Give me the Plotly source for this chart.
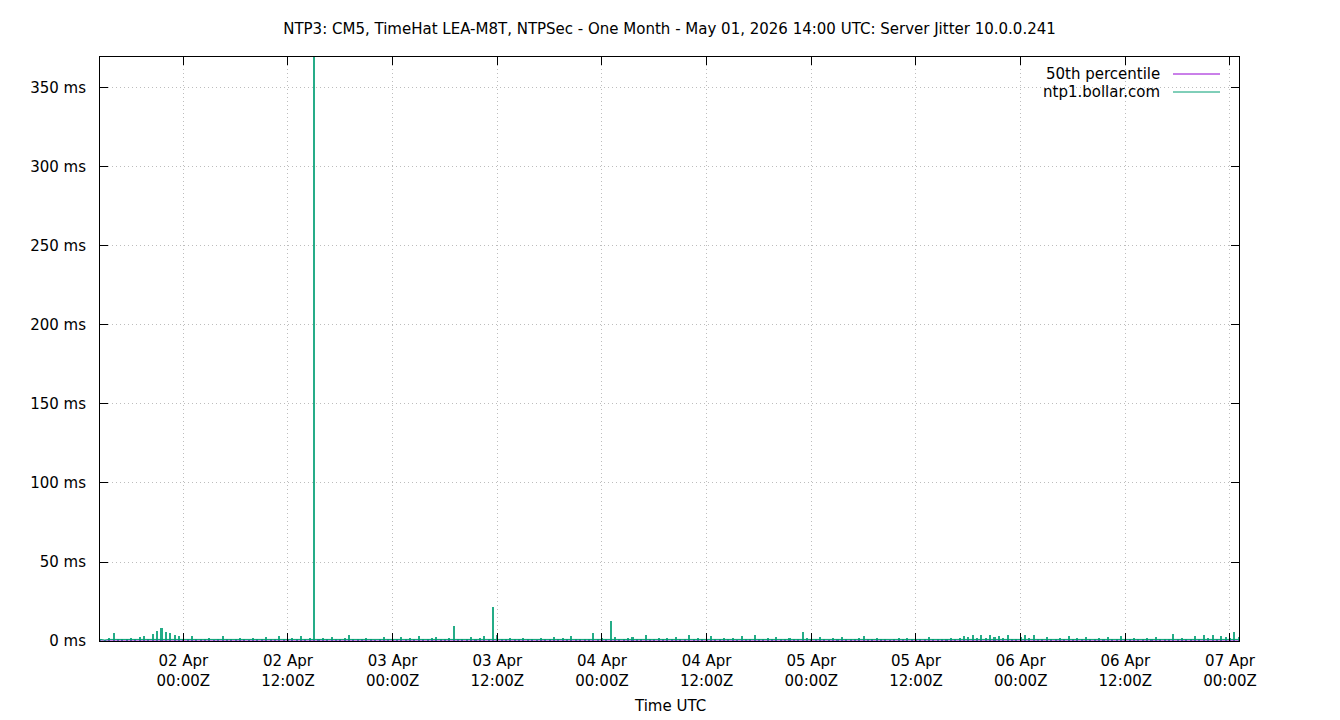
import pandas as pd
import plotly.graph_objects as go

# server jitter samples (ms), one every 30 minutes from 01 Apr 14:30Z
jitter_ms = [
    1.2, 0.6, 1.8, 5.1, 0.9, 1.1, 0.7, 1.6, 0.8, 2.4, 3.1, 1.5,
    4.6, 6.1, 8.2, 5.4, 4.9, 3.8, 3.2, 1.1, 0.7, 2.9, 0.9, 1.4,
    0.8, 1.9, 0.6, 1.2, 3.4, 0.9, 1.5, 0.7, 2.1, 1.0, 0.6, 1.8,
    1.3, 0.8, 2.6, 0.9, 1.1, 3.2, 0.7, 1.4, 2.2, 0.8, 3.0, 1.2,
    1.6, 420.0, 0.9, 1.7, 0.8, 2.5, 1.1, 0.7, 1.9, 3.5, 0.9, 1.3,
    0.8, 2.0, 1.2, 0.6, 1.5, 2.8, 0.9, 1.1, 0.7, 2.3, 1.0, 1.6,
    0.9, 3.3, 1.2, 0.8, 1.7, 2.4, 0.7, 1.3, 2.0, 9.8, 1.1, 0.8,
    1.5, 2.6, 0.9, 1.8, 3.1, 1.2, 21.5, 4.0, 1.3, 0.8, 1.9, 0.7,
    1.2, 2.2, 0.8, 1.4, 0.6, 1.7, 1.0, 0.9, 2.5, 1.1, 1.6, 0.8,
    3.4, 1.2, 0.9, 1.5, 0.7, 4.8, 1.3, 2.0, 1.0, 12.8, 2.7, 1.1,
    0.8, 1.6, 2.4, 0.9, 1.2, 3.9, 0.7, 1.4, 2.1, 0.8, 1.8, 1.0,
    2.6, 1.3, 0.7, 3.8, 1.1, 2.0, 0.9, 1.5, 3.0, 1.2, 0.8, 2.2,
    1.0, 1.7, 0.6, 2.9, 1.3, 0.9, 4.1, 1.2, 0.8, 1.6, 1.1, 2.3,
    0.7, 1.4, 2.0, 0.9, 1.2, 5.4, 1.8, 0.8, 1.5, 2.7, 1.0, 0.6,
    1.9, 1.1, 2.4, 0.8, 1.3, 0.7, 1.6, 3.2, 0.9, 1.2, 2.1, 0.8,
    1.4, 0.6, 1.0, 1.8, 0.7, 2.2, 1.1, 0.9, 1.5, 0.8, 2.6, 1.2,
    1.4, 0.7, 1.2, 2.0, 0.9, 1.6, 3.1, 2.4, 3.8, 2.2, 3.5, 1.9,
    4.0, 2.7, 3.3, 1.8, 3.6, 1.2, 0.9, 2.4, 4.1, 1.6, 3.9, 1.1,
    1.3, 2.8, 0.8, 1.5, 2.2, 0.9, 3.0, 1.1, 1.7, 0.7, 2.5, 1.4,
    0.8, 1.9, 1.2, 2.6, 0.9, 1.5, 3.1, 1.0, 0.7, 2.0, 1.3, 0.9,
    1.6, 0.8, 2.3, 1.1, 1.4, 0.7, 4.6, 1.2, 2.1, 0.9, 1.5, 2.9,
    1.0, 3.6, 2.2, 4.0, 1.4, 3.3, 2.5, 1.8, 6.0, 2.7,
]
times = pd.date_range("2026-04-01 14:30", periods=len(jitter_ms), freq="30min")

# the percentile line sits on the axis and is hidden by it
percentile_50 = 0.0

tick_times = pd.date_range("2026-04-02 00:00", "2026-04-07 00:00", freq="12h")
tick_text = [t.strftime("%d %b<br>%H:%MZ") for t in tick_times]
y_ticks = [0, 50, 100, 150, 200, 250, 300, 350]
y_text = [f"{v} ms" for v in y_ticks]

FONT = "DejaVu Sans"
GREEN = "#009e73"
PURPLE = "#9400d3"

# page body has an 8px margin, so the figure is 8px smaller each way
W, H = 1332, 712
L, R, T, B = 92, 101, 49, 79
PW, PH = W - L - R, H - T - B

fig = go.Figure()
fig.add_trace(go.Scatter(x=[times[0], times[-1]], y=[percentile_50, percentile_50],
                         mode="lines", line=dict(color=PURPLE, width=1),
                         name="50th percentile", showlegend=False))
# impulses, like gnuplot draws a dense jitter series
fig.add_trace(go.Bar(x=times, y=jitter_ms, width=14 * 60 * 1000,
                     marker=dict(color=GREEN, line=dict(width=0)), opacity=0.85,
                     name="ntp1.bollar.com", showlegend=False))
fig.add_trace(go.Scatter(x=times, y=[min(v, 1.0) for v in jitter_ms], mode="lines",
                         line=dict(color=GREEN, width=1), hoverinfo="skip",
                         showlegend=False))

# gnuplot-style key: right aligned text, sample line to the right
key = [("50th percentile", PURPLE, 66), ("ntp1.bollar.com", GREEN, 84)]
for label, colour, py in key:
    ky = 1 - (py - T) / PH
    fig.add_annotation(x=(1154 - L) / PW, y=ky, xref="paper", yref="paper", text=label,
                       showarrow=False, xanchor="right", yanchor="middle",
                       font=dict(family=FONT, size=15, color="black"))
    fig.add_shape(type="line", xref="paper", yref="paper",
                  x0=(1165 - L) / PW, x1=(1212 - L) / PW,
                  y0=ky, y1=ky, line=dict(color=colour, width=1))

fig.add_annotation(x=0.5, y=-(698 - (H - B)) / PH, xref="paper", yref="paper", text="Time UTC",
                   showarrow=False, yanchor="middle",
                   font=dict(family=FONT, size=15, color="black"))

fig.update_layout(
    width=W, height=H,
    margin=dict(l=L, r=R, t=T, b=B),
    paper_bgcolor="white", plot_bgcolor="white",
    font=dict(family=FONT, size=15, color="black"),
    bargap=0,
    title=dict(text="NTP3: CM5, TimeHat LEA-M8T, NTPSec - One Month - May 01, 2026 14:00 UTC: Server Jitter 10.0.0.241",
               x=(L + PW / 2) / W, xanchor="center", y=1 - 21 / H, yanchor="middle", yref="container",
               font=dict(family=FONT, size=15, color="black")),
)
grid = dict(showgrid=True, gridcolor="#bdbdbd", griddash="1px,3px", gridwidth=1)
fig.update_xaxes(
    type="date", range=["2026-04-01 14:27", "2026-04-07 01:02"],
    tickvals=tick_times, ticktext=tick_text,
    ticks="inside", ticklen=8, tickcolor="black",
    showline=True, linecolor="black", linewidth=1, mirror="ticks",
    zeroline=False, ticklabelstandoff=6, **grid,
)
fig.update_yaxes(
    range=[0, 369.6], tickvals=y_ticks, ticktext=y_text,
    ticks="inside", ticklen=8, tickcolor="black",
    showline=True, linecolor="black", linewidth=1, mirror="ticks",
    zeroline=False, ticklabelstandoff=10, **grid,
)

fig.write_html("out.html")
